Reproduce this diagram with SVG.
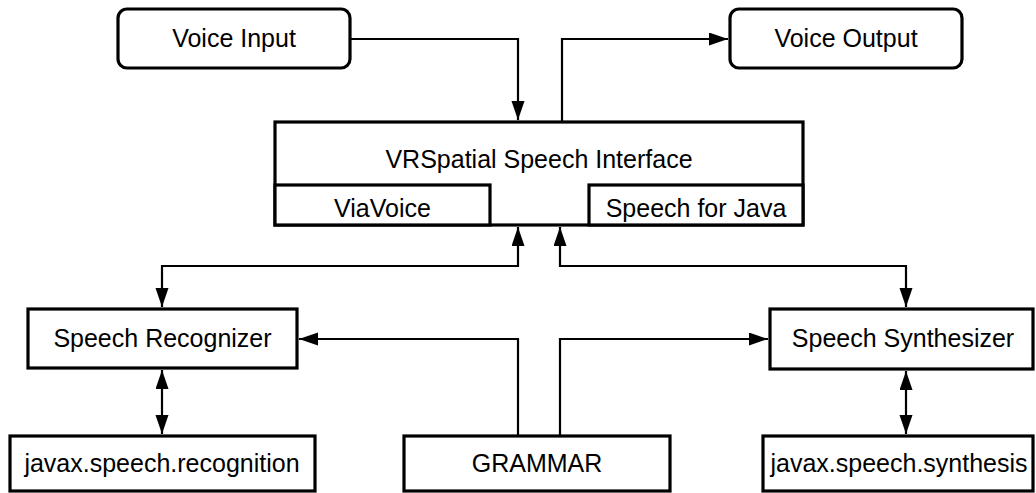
<svg xmlns="http://www.w3.org/2000/svg" width="1036" height="493" viewBox="0 0 1036 493">
  <defs>
    <marker id="arrow" markerUnits="userSpaceOnUse" markerWidth="20" markerHeight="14" refX="19" refY="6.5" orient="auto-start-reverse">
      <path d="M0,0 L19,6.5 L0,13 Z" fill="#000"/>
    </marker>
  </defs>
  <style>
    .box { fill: #fff; stroke: #000; stroke-width: 3.2; }
    .label { font-family: "Liberation Sans", Arial, sans-serif; font-size: 25px; fill: #000; text-anchor: middle; }
    .conn { fill: none; stroke: #000; stroke-width: 2.2; }
  </style>
  <rect width="1036" height="493" fill="#fff"/>

  <g id="connectors">
    <path class="conn" d="M350,39 H518 V120" marker-end="url(#arrow)"/>
    <path class="conn" d="M562,122 V39 H728" marker-end="url(#arrow)"/>
    <path class="conn" d="M518,227 V266 H162 V307" marker-start="url(#arrow)" marker-end="url(#arrow)"/>
    <path class="conn" d="M560,227 V266 H906 V307" marker-start="url(#arrow)" marker-end="url(#arrow)"/>
    <path class="conn" d="M518,436 V339 H299" marker-end="url(#arrow)"/>
    <path class="conn" d="M560,436 V339 H768" marker-end="url(#arrow)"/>
    <path class="conn" d="M162,370 V434" marker-start="url(#arrow)" marker-end="url(#arrow)"/>
    <path class="conn" d="M906,371 V434" marker-start="url(#arrow)" marker-end="url(#arrow)"/>
  </g>

  <g id="voice-input">
    <rect class="box" x="118" y="9" width="232" height="59" rx="9"/>
    <text class="label" x="234" y="47">Voice Input</text>
  </g>
  <g id="voice-output">
    <rect class="box" x="730" y="9" width="232" height="59" rx="9"/>
    <text class="label" x="846" y="47">Voice Output</text>
  </g>

  <g id="speech-interface">
    <rect class="box" x="275" y="122" width="528" height="103"/>
    <text class="label" x="539" y="168">VRSpatial Speech Interface</text>
  </g>
  <g id="viavoice">
    <rect class="box" x="275" y="185" width="215" height="40"/>
    <text class="label" x="382.5" y="217">ViaVoice</text>
  </g>
  <g id="speech-for-java">
    <rect class="box" x="589" y="185" width="214" height="40"/>
    <text class="label" x="696" y="217">Speech for Java</text>
  </g>

  <g id="speech-recognizer">
    <rect class="box" x="28" y="309" width="269" height="59"/>
    <text class="label" x="162.5" y="347">Speech Recognizer</text>
  </g>
  <g id="speech-synthesizer">
    <rect class="box" x="770" y="309" width="263" height="60"/>
    <text class="label" x="903" y="347">Speech Synthesizer</text>
  </g>

  <g id="javax-recognition">
    <rect class="box" x="10" y="436" width="305" height="55"/>
    <text class="label" x="162" y="472">javax.speech.recognition</text>
  </g>
  <g id="grammar">
    <rect class="box" x="404" y="436" width="266" height="55"/>
    <text class="label" x="537" y="472">GRAMMAR</text>
  </g>
  <g id="javax-synthesis">
    <rect class="box" x="763" y="436" width="270" height="55"/>
    <text class="label" x="899" y="472">javax.speech.synthesis</text>
  </g>
</svg>
